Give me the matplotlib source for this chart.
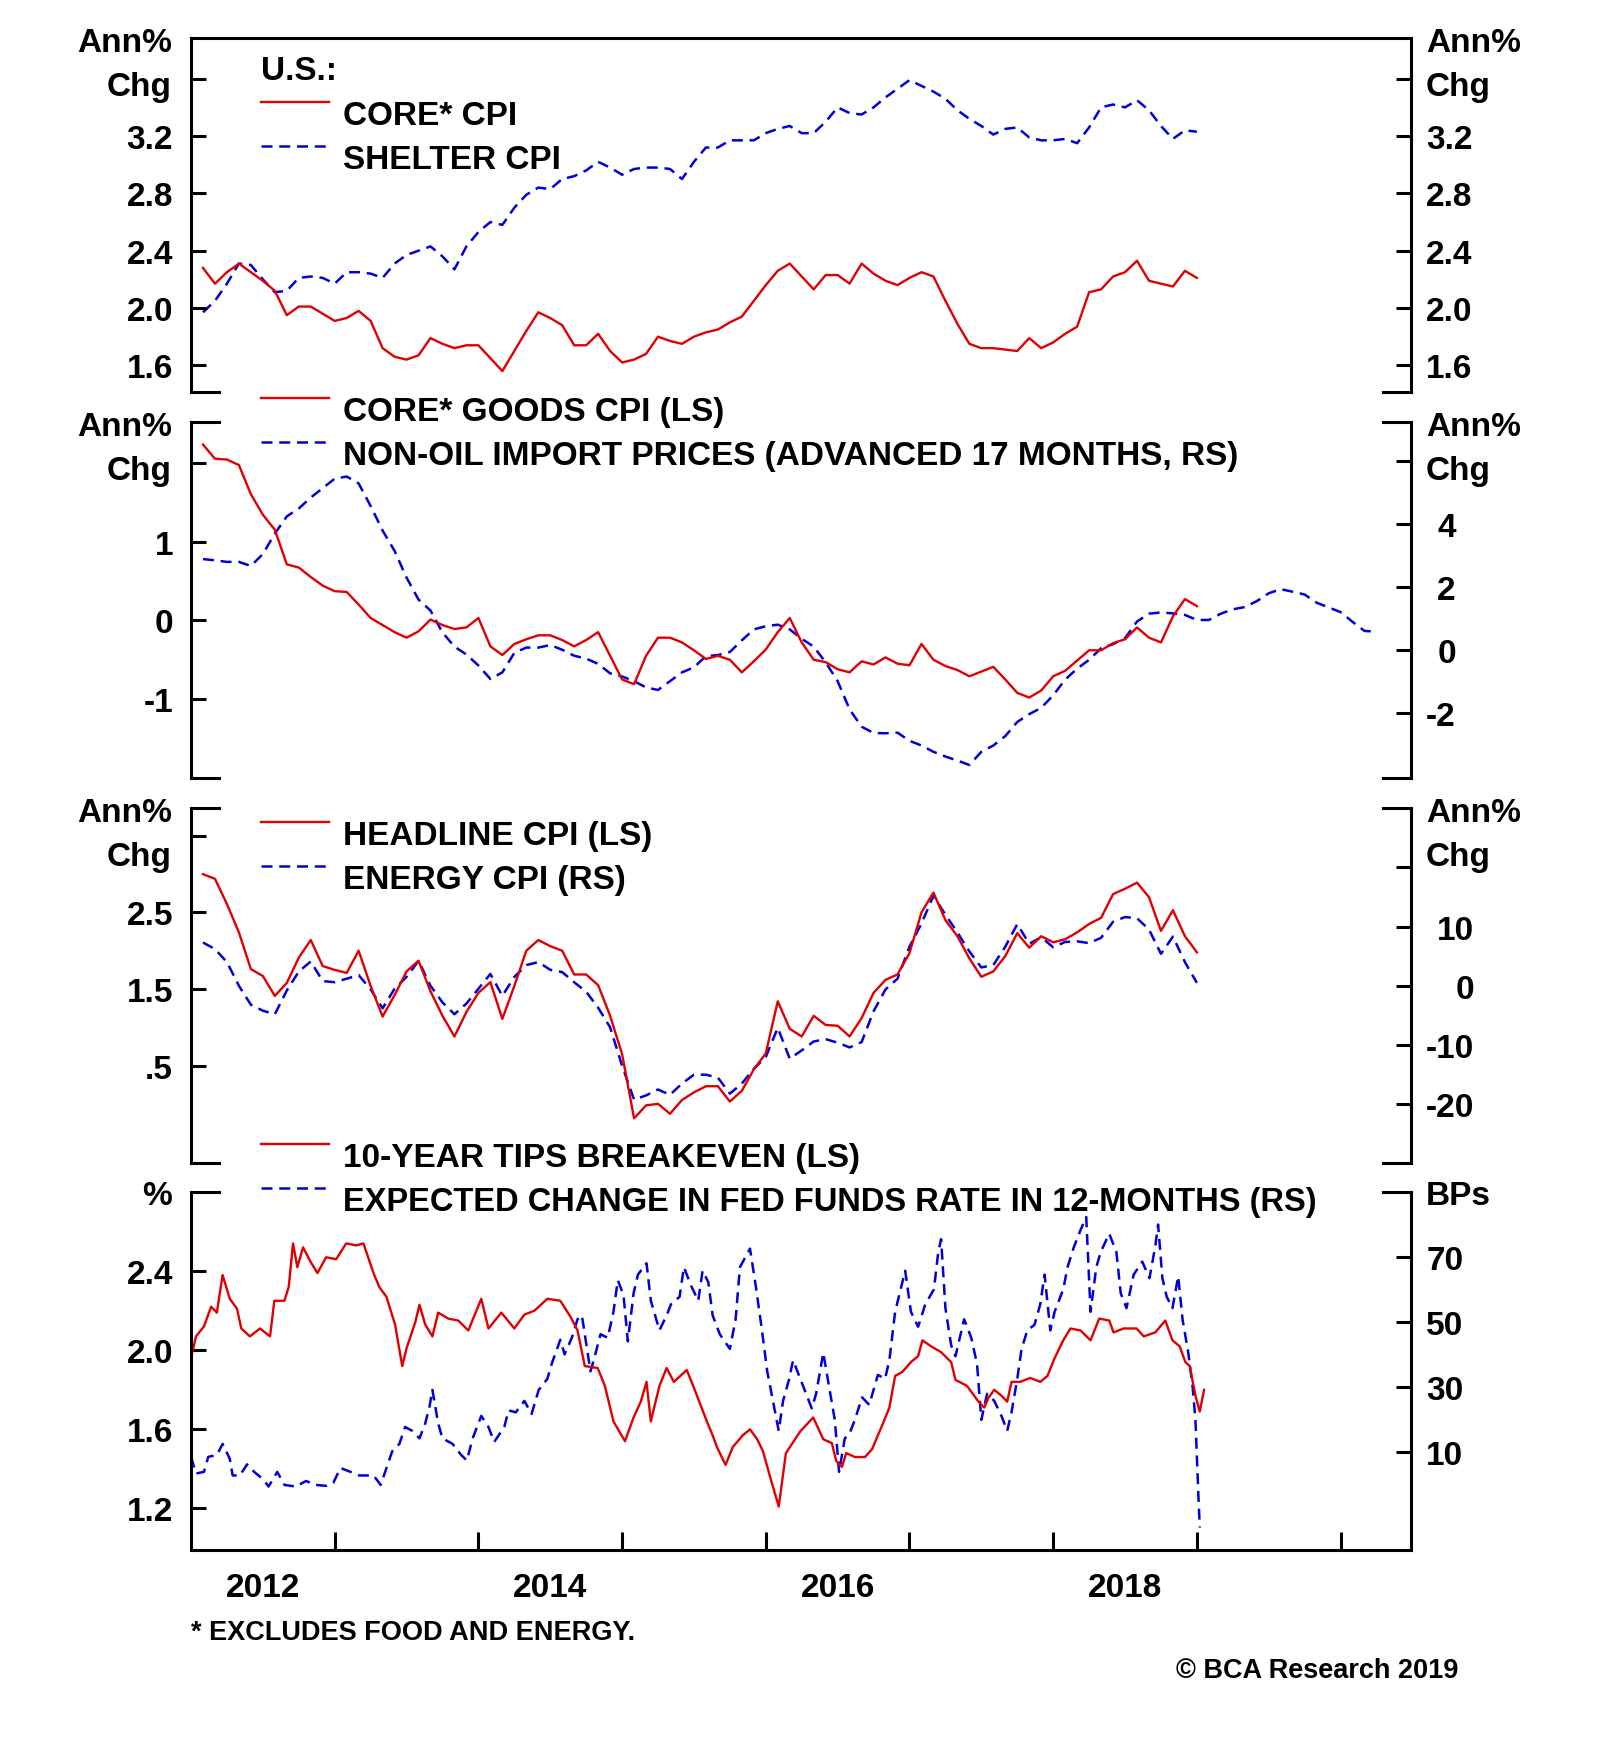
import numpy as np
import matplotlib
matplotlib.use("Agg")
import matplotlib.pyplot as plt

plt.rcParams['font.family'] = ['Liberation Sans', 'DejaVu Sans']
plt.rcParams['font.weight'] = 'bold'
plt.rcParams['font.size'] = 24

RED = '#e00000'
BLUE = '#0000d8'

# monthly data, Jan 2012 - Dec 2018, annual % change
core_cpi = [2.28, 2.17, 2.25, 2.31, 2.25, 2.19, 2.12, 1.95, 2.01, 2.01, 1.96, 1.91,
            1.93, 1.98, 1.91, 1.72, 1.66, 1.64, 1.67, 1.79, 1.75, 1.72, 1.74, 1.74,
            1.65, 1.56, 1.70, 1.84, 1.97, 1.93, 1.88, 1.74, 1.74, 1.82, 1.70, 1.62,
            1.64, 1.68, 1.80, 1.77, 1.75, 1.80, 1.83, 1.85, 1.90, 1.94, 2.05, 2.16,
            2.26, 2.31, 2.22, 2.13, 2.23, 2.23, 2.17, 2.31, 2.24, 2.19, 2.16, 2.21,
            2.25, 2.22, 2.05, 1.89, 1.75, 1.72, 1.72, 1.71, 1.70, 1.79, 1.72, 1.76,
            1.82, 1.87, 2.11, 2.13, 2.22, 2.25, 2.33, 2.19, 2.17, 2.15, 2.26, 2.21]
shelter_cpi = [1.97, 2.05, 2.17, 2.31, 2.30, 2.20, 2.11, 2.12, 2.21, 2.22, 2.21, 2.17,
               2.25, 2.25, 2.24, 2.21, 2.31, 2.37, 2.40, 2.43, 2.36, 2.27, 2.43, 2.53,
               2.60, 2.58, 2.70, 2.79, 2.84, 2.83, 2.90, 2.92, 2.96, 3.02, 2.98, 2.93,
               2.97, 2.98, 2.98, 2.97, 2.90, 3.02, 3.12, 3.12, 3.17, 3.17, 3.17, 3.22,
               3.25, 3.27, 3.22, 3.22, 3.30, 3.40, 3.36, 3.35, 3.40, 3.47, 3.53, 3.59,
               3.55, 3.51, 3.46, 3.38, 3.32, 3.27, 3.21, 3.25, 3.26, 3.19, 3.17, 3.17,
               3.18, 3.15, 3.26, 3.40, 3.42, 3.40, 3.45, 3.38, 3.27, 3.18, 3.24, 3.23]
core_goods_cpi = [2.23, 2.05, 2.04, 1.97, 1.60, 1.34, 1.15, 0.71, 0.67, 0.55, 0.44, 0.37,
                  0.36, 0.20, 0.03, -0.06, -0.15, -0.22, -0.14, 0.01, -0.06, -0.11, -0.09, 0.03,
                  -0.33, -0.44, -0.30, -0.24, -0.19, -0.19, -0.25, -0.33, -0.25, -0.15, -0.45, -0.75,
                  -0.81, -0.45, -0.22, -0.22, -0.28, -0.38, -0.49, -0.45, -0.50, -0.66, -0.52, -0.37,
                  -0.15, 0.03, -0.28, -0.50, -0.53, -0.62, -0.66, -0.52, -0.56, -0.47, -0.55, -0.57,
                  -0.30, -0.50, -0.58, -0.63, -0.71, -0.65, -0.59, -0.75, -0.92, -0.98, -0.89, -0.71,
                  -0.64, -0.51, -0.38, -0.38, -0.29, -0.24, -0.09, -0.22, -0.28, 0.05, 0.27, 0.18]
# non-oil import prices, Aug 2010 - Oct 2018, shown 17 months ahead
non_oil_import = [2.89, 2.85, 2.80, 2.80, 2.67, 3.05, 3.70, 4.25, 4.50, 4.85, 5.15, 5.45,
                  5.52, 5.30, 4.58, 3.80, 3.15, 2.30, 1.60, 1.25, 0.55, 0.10, -0.15, -0.50,
                  -0.93, -0.72, -0.10, 0.07, 0.07, 0.15, 0.00, -0.19, -0.28, -0.45, -0.75, -0.85,
                  -1.00, -1.20, -1.28, -1.00, -0.72, -0.56, -0.20, -0.17, -0.07, 0.30, 0.65, 0.75,
                  0.80, 0.65, 0.35, 0.10, -0.40, -1.00, -1.90, -2.45, -2.65, -2.66, -2.64, -2.90,
                  -3.05, -3.25, -3.40, -3.53, -3.67, -3.25, -3.05, -2.75, -2.30, -2.05, -1.85, -1.45,
                  -0.95, -0.60, -0.32, 0.05, 0.18, 0.37, 0.90, 1.15, 1.19, 1.16, 1.11, 0.95,
                  0.95, 1.15, 1.29, 1.36, 1.55, 1.80, 1.93, 1.85, 1.76, 1.50, 1.35, 1.20,
                  0.89, 0.60, 0.58]
headline_cpi = [3.00, 2.94, 2.61, 2.24, 1.76, 1.67, 1.41, 1.58, 1.91, 2.14, 1.80, 1.75,
                1.71, 2.00, 1.54, 1.14, 1.42, 1.73, 1.87, 1.47, 1.15, 0.88, 1.20, 1.45,
                1.59, 1.11, 1.54, 2.00, 2.14, 2.06, 2.00, 1.69, 1.69, 1.55, 1.15, 0.65,
                -0.19, -0.02, 0.00, -0.13, 0.05, 0.15, 0.23, 0.23, 0.03, 0.17, 0.45, 0.66,
                1.34, 0.98, 0.88, 1.15, 1.03, 1.02, 0.88, 1.12, 1.45, 1.62, 1.69, 1.97,
                2.50, 2.76, 2.40, 2.19, 1.90, 1.66, 1.73, 1.93, 2.23, 2.04, 2.19, 2.11,
                2.15, 2.24, 2.35, 2.43, 2.74, 2.81, 2.89, 2.70, 2.26, 2.53, 2.19, 1.98]
energy_cpi = [7.3, 6.2, 4.0, 0.0, -3.2, -4.2, -4.8, -0.8, 2.4, 4.1, 0.8, 0.6,
              1.2, 1.8, -0.6, -3.8, -0.5, 1.5, 4.2, 0.0, -2.8, -4.8, -3.0, -0.5,
              2.0, -1.7, 1.5, 3.5, 4.0, 2.7, 2.3, 0.6, -1.0, -3.7, -7.0, -13.5,
              -19.2, -18.5, -17.5, -18.4, -16.5, -15.0, -15.0, -15.5, -18.2, -16.5, -14.0, -12.0,
              -7.1, -12.3, -10.9, -9.4, -9.0, -9.6, -10.4, -9.5, -4.3, -0.6, 1.2, 6.6,
              10.5, 15.2, 12.0, 9.0, 5.8, 3.1, 3.5, 6.6, 10.4, 7.1, 8.2, 6.5,
              7.4, 7.5, 7.2, 8.1, 10.8, 11.6, 11.4, 9.5, 5.4, 8.3, 4.0, 0.5]

# higher frequency series (decimal year, value)
tips_t = [2012.00, 2012.035, 2012.09, 2012.14, 2012.18, 2012.22, 2012.27, 2012.32, 2012.35, 2012.41,
          2012.48, 2012.55, 2012.58, 2012.65, 2012.68, 2012.71, 2012.74, 2012.78, 2012.83, 2012.88, 2012.94,
          2013.01, 2013.08, 2013.15, 2013.20, 2013.27, 2013.31, 2013.36, 2013.42, 2013.47, 2013.50,
          2013.56, 2013.59, 2013.63, 2013.68, 2013.72, 2013.79, 2013.86, 2013.93,
          2014.02, 2014.07, 2014.16, 2014.25, 2014.32, 2014.39, 2014.48, 2014.57, 2014.64, 2014.69,
          2014.74, 2014.83, 2014.88, 2014.94,
          2015.02, 2015.08, 2015.13, 2015.17, 2015.20, 2015.26, 2015.31, 2015.36, 2015.45, 2015.50,
          2015.59, 2015.63, 2015.66, 2015.72, 2015.77, 2015.84, 2015.89, 2015.94, 2015.98,
          2016.03, 2016.09, 2016.14, 2016.24, 2016.33, 2016.40, 2016.46, 2016.49, 2016.53, 2016.56,
          2016.62, 2016.69, 2016.74, 2016.78, 2016.81, 2016.86, 2016.90, 2016.95,
          2017.01, 2017.06, 2017.09, 2017.15, 2017.22, 2017.29, 2017.32, 2017.40, 2017.43, 2017.48,
          2017.52, 2017.55, 2017.59, 2017.64, 2017.68, 2017.71, 2017.77, 2017.84, 2017.91, 2017.96,
          2018.01, 2018.07, 2018.12, 2018.19, 2018.26, 2018.32, 2018.39, 2018.42, 2018.49, 2018.58,
          2018.63, 2018.71, 2018.78, 2018.83, 2018.88, 2018.92, 2018.95, 2018.99,
          2019.02, 2019.05]
tips_v = [1.96, 2.07, 2.12, 2.22, 2.19, 2.38, 2.26, 2.21, 2.11, 2.07,
          2.11, 2.07, 2.25, 2.25, 2.32, 2.54, 2.42, 2.52, 2.45, 2.39, 2.47,
          2.46, 2.54, 2.53, 2.54, 2.39, 2.32, 2.27, 2.13, 1.92, 2.01,
          2.14, 2.23, 2.13, 2.07, 2.19, 2.16, 2.15, 2.10,
          2.26, 2.11, 2.19, 2.11, 2.18, 2.20, 2.26, 2.25, 2.17, 2.10,
          1.92, 1.91, 1.82, 1.64,
          1.54, 1.66, 1.74, 1.84, 1.64, 1.82, 1.91, 1.84, 1.90, 1.81,
          1.64, 1.57, 1.51, 1.42, 1.51, 1.57, 1.60, 1.55, 1.49,
          1.36, 1.21, 1.48, 1.59, 1.66, 1.55, 1.53, 1.44, 1.41, 1.48,
          1.46, 1.46, 1.50, 1.57, 1.62, 1.71, 1.87, 1.89,
          1.94, 1.97, 2.05, 2.02, 1.99, 1.94, 1.85, 1.82, 1.79, 1.74,
          1.71, 1.76, 1.80, 1.77, 1.74, 1.84, 1.84, 1.86, 1.84, 1.87,
          1.96, 2.05, 2.11, 2.10, 2.05, 2.16, 2.15, 2.09, 2.11, 2.11,
          2.07, 2.09, 2.15, 2.05, 2.02, 1.94, 1.92, 1.77,
          1.69, 1.80]
ffr_t = [2012.00, 2012.035, 2012.09, 2012.12, 2012.18, 2012.22, 2012.27, 2012.29, 2012.34, 2012.39,
         2012.44, 2012.50, 2012.54, 2012.60, 2012.65, 2012.73, 2012.80, 2012.87, 2012.94, 2012.99,
         2013.04, 2013.11, 2013.17, 2013.22, 2013.27, 2013.32, 2013.36, 2013.40, 2013.45, 2013.49,
         2013.54, 2013.59, 2013.63, 2013.66, 2013.68, 2013.72, 2013.75, 2013.82, 2013.88, 2013.92, 2013.96,
         2014.02, 2014.07, 2014.11, 2014.18, 2014.21, 2014.26, 2014.32, 2014.37, 2014.42, 2014.48,
         2014.51, 2014.57, 2014.60, 2014.65, 2014.69, 2014.72, 2014.78, 2014.81, 2014.85, 2014.90,
         2014.94, 2014.97,
         2015.01, 2015.04, 2015.08, 2015.11, 2015.17, 2015.20, 2015.26, 2015.31, 2015.34, 2015.40,
         2015.43, 2015.48, 2015.53, 2015.56, 2015.60, 2015.63, 2015.68, 2015.75, 2015.79, 2015.82,
         2015.89, 2015.93, 2015.97,
         2016.01, 2016.04, 2016.09, 2016.12, 2016.16, 2016.19, 2016.26, 2016.32, 2016.35, 2016.40,
         2016.44, 2016.48, 2016.51, 2016.55, 2016.58, 2016.62, 2016.67, 2016.72, 2016.78, 2016.83,
         2016.86, 2016.90, 2016.95, 2016.97,
         2017.01, 2017.06, 2017.11, 2017.17, 2017.20, 2017.22, 2017.25, 2017.29, 2017.32, 2017.38,
         2017.43, 2017.47, 2017.50, 2017.54, 2017.59, 2017.64, 2017.68, 2017.71, 2017.75, 2017.78,
         2017.82, 2017.87, 2017.91, 2017.94, 2017.98,
         2018.01, 2018.07, 2018.10, 2018.14, 2018.19, 2018.23, 2018.26, 2018.30, 2018.33, 2018.39,
         2018.44, 2018.47, 2018.51, 2018.56, 2018.62, 2018.67, 2018.71, 2018.73, 2018.76, 2018.79,
         2018.83, 2018.87, 2018.90, 2018.94, 2018.97, 2018.99,
         2019.01, 2019.02]
ffr_v = [8.6, 3.5, 4.0, 8.6, 9.2, 12.6, 8.0, 2.9, 2.9, 6.3,
         4.0, 1.8, -0.5, 4.0, 0.0, -0.5, 1.2, 0.0, -0.3, 0.6,
         5.2, 4.0, 2.9, 2.9, 2.9, 0.0, 5.2, 10.3, 12.6, 17.8,
         16.6, 14.3, 18.9, 24.1, 29.2, 18.9, 14.3, 12.6, 9.2, 7.5, 14.3,
         21.2, 17.8, 13.2, 17.8, 22.9, 22.3, 25.8, 21.8, 29.2, 32.6,
         37.2, 44.6, 40.1, 45.2, 50.9, 52.1, 34.9, 39.5, 46.3, 45.2,
         53.2, 62.9,
         58.3, 44.1, 58.9, 64.6, 68.1, 56.6, 47.5, 52.1, 55.5, 57.8,
         66.9, 61.2, 56.6, 65.8, 62.3, 52.1, 46.3, 41.8, 50.9, 66.9,
         72.6, 61.2, 48.6,
         34.9, 28.0, 16.6, 25.8, 32.1, 38.3, 30.3, 23.5, 28.0, 40.6,
         30.3, 20.0, 4.0, 14.3, 15.5, 20.0, 26.9, 24.6, 33.8, 32.6,
         38.3, 53.2, 62.3, 65.8,
         53.2, 48.6, 55.5, 60.1, 71.5, 75.5, 54.3, 42.9, 39.5, 50.9,
         45.2, 37.2, 20.0, 28.0, 25.8, 21.2, 16.6, 22.3, 32.6, 41.8,
         47.5, 49.2, 55.5, 64.6, 47.5,
         53.2, 60.1, 66.9, 72.6, 78.3, 82.3, 53.2, 66.9, 71.5, 77.2,
         71.5, 58.9, 54.3, 64.6, 68.6, 63.5, 73.2, 80.0, 63.5, 57.8,
         54.3, 64.1, 50.9, 40.6, 30.3, 20.0,
         -2.8, -13.1]

month_x = 2012 + (np.arange(len(core_cpi)) + 1) / 12.0
import_x = 2010 + 7 / 12.0 + (np.arange(len(non_oil_import)) + 1 + 17) / 12.0

# ---------------- layout (pixels)
W, H = 1600, 1758
DPI = 100
PT = 72.0 / DPI
fig = plt.figure(figsize=(W / DPI, H / DPI), dpi=DPI)
LEFT, RIGHT = 191, 1411
tops = [39, 423, 809, 1193]
bots = [393, 779, 1164, 1551]
XLIM = (2012.0, 2020.49)
LW_AX = 2.2
STUB = 28

dash_kw = dict(color=BLUE, lw=1.8, dashes=(4.4, 2.7))
solid_kw = dict(color=RED, lw=1.7)


def stubs(ax, y):
    f = STUB / float(RIGHT - LEFT)
    for x0, x1 in [(0, f), (1 - f, 1)]:
        ax.plot([x0, x1], [y, y], transform=ax.transAxes, color='black', lw=LW_AX,
                clip_on=False, solid_capstyle='projecting')


def panel(i, ylim, lticks, llabels, ylim2, rticks, rlabels):
    ax = fig.add_axes([LEFT / W, 1 - bots[i] / H, (RIGHT - LEFT) / W, (bots[i] - tops[i]) / H])
    ax2 = ax.twinx()
    ax.set_zorder(ax2.get_zorder() + 1)
    ax.patch.set_visible(False)
    for s in ax.spines.values():
        s.set_linewidth(LW_AX)
        s.set_capstyle('projecting')
    for s in ax2.spines.values():
        s.set_visible(False)
    ax.spines['top'].set_visible(i == 0)
    ax.spines['bottom'].set_visible(i == 3)
    if i != 0:
        stubs(ax, 1)
    if i != 3:
        stubs(ax, 0)
    ax.set_xlim(*XLIM)
    ax.set_ylim(*ylim)
    ax2.set_ylim(*ylim2)
    ax.set_yticks(lticks)
    ax.set_yticklabels(llabels)
    ax2.set_yticks(rticks)
    ax2.set_yticklabels(rlabels)
    ax.tick_params(axis='y', direction='in', length=15 * PT, width=LW_AX,
                   labelsize=24, pad=18 * PT)
    ax2.tick_params(axis='y', direction='in', length=15 * PT, width=LW_AX, labelsize=24)
    if i == 3:
        ax.set_xticks(range(2013, 2021))
        ax.tick_params(axis='x', which='major', direction='in', length=18 * PT,
                       width=LW_AX, labelbottom=False)
        ax.set_xticks([2012.5, 2014.5, 2016.5, 2018.5], minor=True)
        ax.set_xticklabels(['2012', '2014', '2016', '2018'], minor=True)
        ax.tick_params(axis='x', which='minor', length=0, pad=22 * PT, labelsize=24)
    else:
        ax.tick_params(axis='x', which='both', bottom=False, labelbottom=False)
    return ax, ax2


ax1, ax1r = panel(0, (1.414, 3.884), [1.6, 2.0, 2.4, 2.8, 3.2, 3.6],
                  ['1.6', '2.0', '2.4', '2.8', '3.2', ''],
                  (1.414, 3.884), [1.6, 2.0, 2.4, 2.8, 3.2, 3.6],
                  ['1.6', '2.0', '2.4', '2.8', '3.2', ''])
ax1.plot(month_x, core_cpi, **solid_kw)
ax1r.plot(month_x, shelter_cpi, **dash_kw)

ax2, ax2r = panel(1, (-2.0, 2.516), [-1, 0, 1, 2], ['-1', '0', '1', ''],
                  (-4.085, 7.257), [-2, 0, 2, 4, 6], ['-2', '0', '2', '4', ''])
ax2.plot(month_x, core_goods_cpi, **solid_kw)
ax2r.plot(import_x, non_oil_import, **dash_kw)

ax3, ax3r = panel(2, (-0.773, 3.865), [0.5, 1.5, 2.5, 3.5], ['.5', '1.5', '2.5', ''],
                  (-29.9, 30.0), [-20, -10, 0, 10, 20], ['-20', '-10', '0', '10', ''])
ax3.plot(month_x, headline_cpi, **solid_kw)
ax3r.plot(month_x, energy_cpi, **dash_kw)

ax4, ax4r = panel(3, (0.99, 2.80), [1.2, 1.6, 2.0, 2.4], ['1.2', '1.6', '2.0', '2.4'],
                  (-20, 90), [10, 30, 50, 70], ['10', '30', '50', '70'])
ax4.plot(tips_t, tips_v, **solid_kw)
ax4r.plot(ffr_t, ffr_v, **dash_kw)

for a in (ax1, ax2, ax3, ax4):
    a.set_xlim(*XLIM)

# right-hand labels are right aligned on a common edge
fig.canvas.draw()
rend = fig.canvas.get_renderer()
for axr in (ax1r, ax2r, ax3r, ax4r):
    labs = [l for l in axr.get_yticklabels() if l.get_text()]
    wmax = max(l.get_window_extent(rend).width for l in labs)
    axr.tick_params(axis='y', pad=(15 + wmax) * PT)
    for l in axr.get_yticklabels():
        l.set_horizontalalignment('right')

# ---------------- overlay for unit labels, legends and notes (pixel coords)
ov = fig.add_axes([0, 0, 1, 1], zorder=10)
ov.set_xlim(0, W)
ov.set_ylim(H, 0)
ov.axis('off')
CAP = 12


def txt(x, y, s, ha='left', size=24):
    ov.text(x, y + CAP * size / 24.0, s, ha=ha, va='baseline', fontsize=size, fontweight='bold')


def legend_item(y_line, label, dashed, size=24):
    kw = dash_kw if dashed else solid_kw
    ov.plot([261, 329], [y_line, y_line], **kw)
    txt(343, y_line + 10, label, size=size)


for top in tops[:3]:
    txt(172, top + 1, 'Ann%', ha='right')
    txt(172, top + 45, 'Chg', ha='right')
    txt(1426, top + 1, 'Ann%')
    txt(1426, top + 45, 'Chg')
txt(172, tops[3], '%', ha='right')
txt(1426, tops[3], 'BPs')

txt(261, 68, 'U.S.:')
legend_item(103, 'CORE* CPI', False)
legend_item(147, 'SHELTER CPI', True)
legend_item(399, 'CORE* GOODS CPI (LS)', False)
legend_item(443, 'NON-OIL IMPORT PRICES (ADVANCED 17 MONTHS, RS)', True)
legend_item(823, 'HEADLINE CPI (LS)', False)
legend_item(867, 'ENERGY CPI (RS)', True)
legend_item(1145, '10-YEAR TIPS BREAKEVEN (LS)', False)
legend_item(1189, 'EXPECTED CHANGE IN FED FUNDS RATE IN 12-MONTHS (RS)', True, size=23.5)

txt(191, 1630, '* EXCLUDES FOOD AND ENERGY.', size=19.5)
txt(1458, 1668, '\u00a9 BCA Research 2019', ha='right', size=19.5)

fig.savefig('out.png', dpi=DPI, facecolor='white')
